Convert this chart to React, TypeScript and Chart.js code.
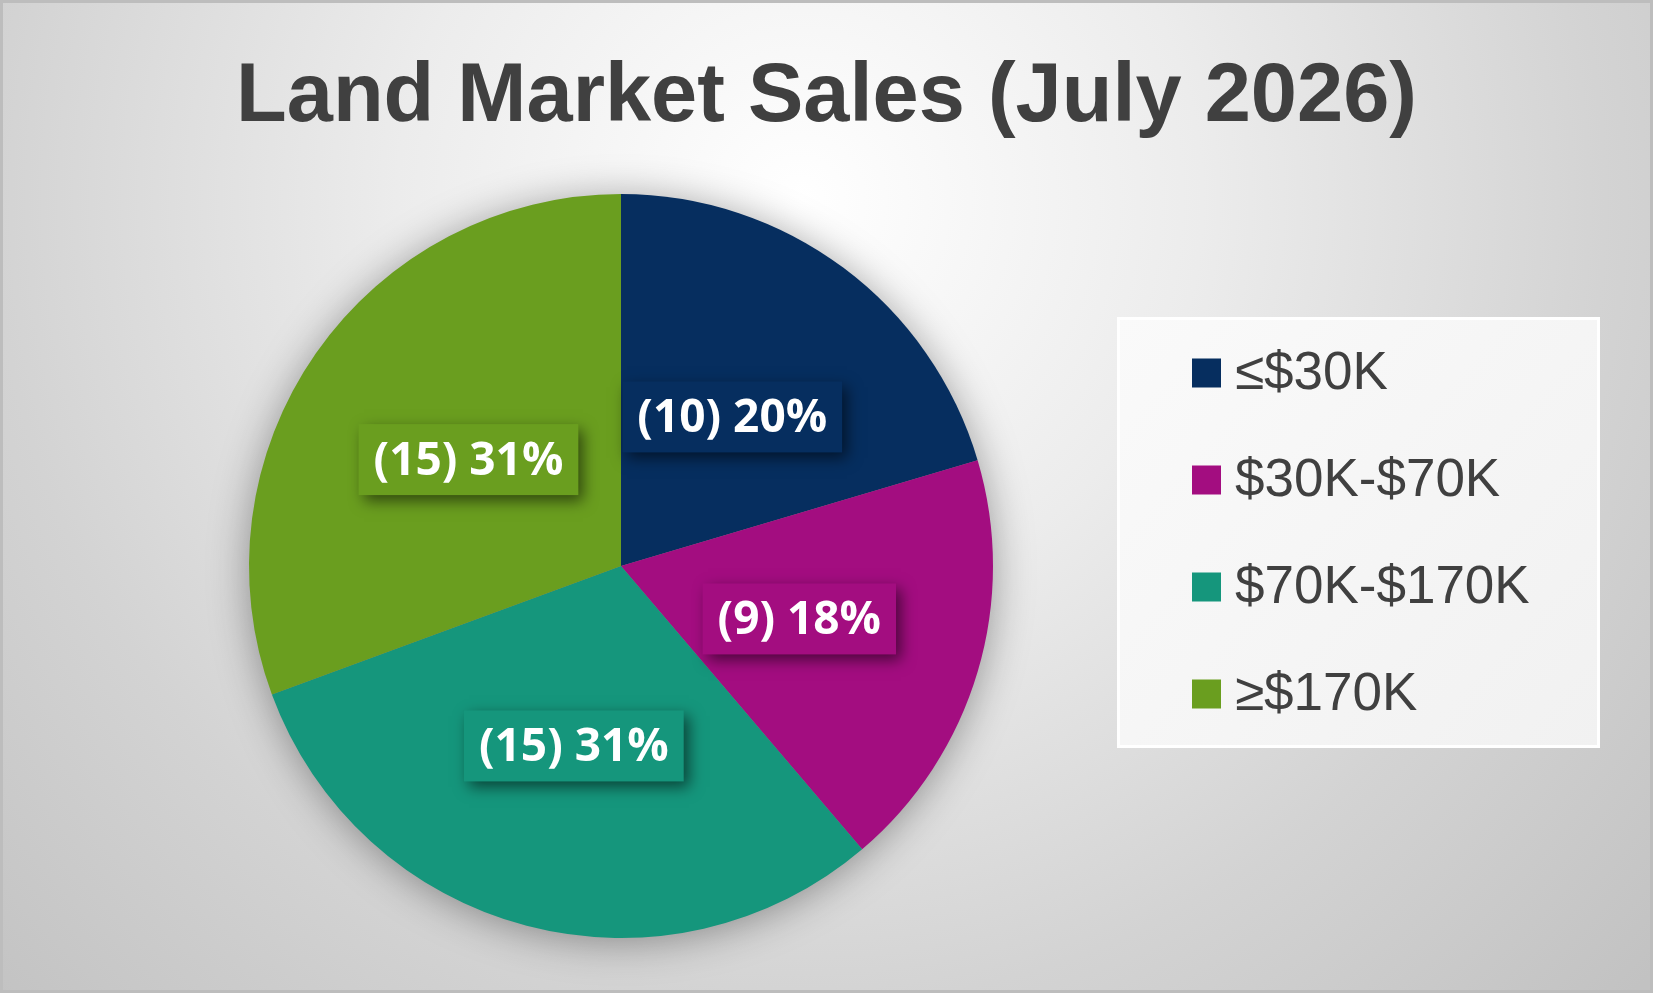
import React, { useEffect, useRef } from "react";
import { Chart, registerables } from "chart.js";

Chart.register(...registerables);

const TITLE = "Land Market Sales (July 2026)";
const CATEGORIES = ["≤$30K", "$30K-$70K", "$70K-$170K", "≥$170K"];
const COUNTS = [10, 9, 15, 15];
const COLORS = ["#062E5F", "#A30D80", "#15967C", "#6A9E1F"];

const W = 1653;
const H = 993;

const backgroundPlugin = {
  id: "bgPlugin",
  beforeDraw(chart: any) {
    const ctx = chart.ctx;
    ctx.save();
    const g = ctx.createRadialGradient(800, 200, 0, 800, 200, 1150);
    g.addColorStop(0, "#ffffff");
    g.addColorStop(0.35, "#ececec");
    g.addColorStop(0.7, "#d3d3d3");
    g.addColorStop(1, "#c2c2c2");
    ctx.fillStyle = g;
    ctx.fillRect(0, 0, W, H);
    ctx.strokeStyle = "#bdbdbd";
    ctx.lineWidth = 3;
    ctx.strokeRect(1.5, 1.5, W - 3, H - 3);

    // title
    ctx.fillStyle = "#404040";
    ctx.font = "bold 83px 'Liberation Sans', Arial, sans-serif";
    ctx.textAlign = "center";
    ctx.textBaseline = "alphabetic";
    ctx.fillText(TITLE, W / 2, 121);

    // legend box
    const lx = 1117, ly = 317, lw = 483, lh = 431;
    const lg = ctx.createLinearGradient(lx, ly, lx + lw, ly + lh);
    lg.addColorStop(0, "#fafafa");
    lg.addColorStop(1, "#f1f1f1");
    ctx.fillStyle = lg;
    ctx.fillRect(lx, ly, lw, lh);
    ctx.strokeStyle = "#ffffff";
    ctx.lineWidth = 3;
    ctx.strokeRect(lx + 1.5, ly + 1.5, lw - 3, lh - 3);

    const labels = chart.data.labels as string[];
    const bg = chart.data.datasets[0].backgroundColor as string[];
    ctx.font = "53px 'Liberation Sans', Arial, sans-serif";
    ctx.textAlign = "left";
    ctx.textBaseline = "middle";
    labels.forEach((lab, i) => {
      const cy = 373 + i * 107;
      ctx.fillStyle = bg[i];
      ctx.fillRect(1192, cy - 14.5, 29, 29);
      ctx.fillStyle = "#404040";
      ctx.fillText(lab, 1235, cy + 1);
    });
    ctx.restore();
  },
  beforeDatasetsDraw(chart: any) {
    const meta = chart.getDatasetMeta(0);
    const arc = meta.data[0];
    if (!arc) return;
    const ctx = chart.ctx;
    ctx.save();
    ctx.shadowColor = "rgba(0,0,0,0.38)";
    ctx.shadowBlur = 42;
    ctx.shadowOffsetX = 0;
    ctx.shadowOffsetY = 4;
    ctx.fillStyle = "#888888";
    ctx.beginPath();
    ctx.arc(arc.x, arc.y, arc.outerRadius - 1, 0, Math.PI * 2);
    ctx.fill();
    ctx.restore();
  },
};

const labelPlugin = {
  id: "pieLabels",
  afterDatasetsDraw(chart: any) {
    const ctx = chart.ctx;
    const data = chart.data.datasets[0].data as number[];
    const bg = chart.data.datasets[0].backgroundColor as string[];
    const total = data.reduce((a, b) => a + b, 0);
    const meta = chart.getDatasetMeta(0);
    ctx.save();
    ctx.font = "bold 46px 'Open Sans', sans-serif";
    meta.data.forEach((el: any, i: number) => {
      const p = el.getCenterPoint();
      const text = `(${data[i]}) ${Math.round((data[i] / total) * 100)}%`;
      const tw = ctx.measureText(text).width;
      const bw = tw + 30;
      const bh = 71;
      ctx.save();
      ctx.shadowColor = "rgba(0,0,0,0.55)";
      ctx.shadowBlur = 14;
      ctx.shadowOffsetX = 5;
      ctx.shadowOffsetY = 6;
      ctx.fillStyle = bg[i];
      ctx.fillRect(p.x - bw / 2, p.y - bh / 2, bw, bh);
      ctx.restore();
      ctx.fillStyle = "#ffffff";
      ctx.textAlign = "center";
      ctx.textBaseline = "middle";
      ctx.fillText(text, p.x, p.y + 2);
    });
    ctx.restore();
  },
};

export default function App() {
  const ref = useRef<HTMLCanvasElement | null>(null);
  useEffect(() => {
    if (!ref.current) return;
    const chart = new Chart(ref.current, {
      type: "pie",
      data: {
        labels: CATEGORIES,
        datasets: [
          {
            data: COUNTS,
            backgroundColor: COLORS,
            borderWidth: 0,
          },
        ],
      },
      options: {
        responsive: false,
        animation: false,
        events: [],
        devicePixelRatio: 1,
        layout: { padding: { left: 249, right: 660, top: 194, bottom: 55 } },
        plugins: {
          legend: { display: false },
          title: { display: false },
          tooltip: { enabled: false },
        },
      },
      plugins: [backgroundPlugin, labelPlugin],
    });
    return () => chart.destroy();
  }, []);
  return (
    <div style={{ position: "fixed", left: 0, top: 0, width: W, height: H }}>
      <canvas ref={ref} width={W} height={H} style={{ width: W, height: H, display: "block" }} />
    </div>
  );
}
